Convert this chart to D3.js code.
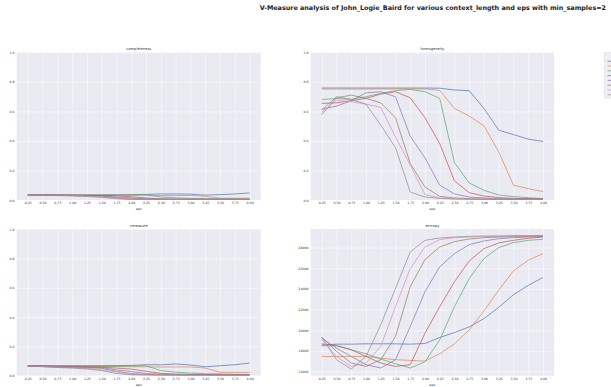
<!DOCTYPE html>
<html>
<head>
<meta charset="utf-8">
<script src="https://cdn.jsdelivr.net/npm/d3@7"></script>
<style>
  body { margin: 0; background: #fff; overflow: hidden; }
  svg { display: block; font-family: "DejaVu Sans", sans-serif; }
</style>
</head>
<body>
<div id="chart"></div>
<script>
// eps values on the x axis
const eps = [0.25, 0.5, 0.75, 1.0, 1.25, 1.5, 1.75, 2.0, 2.25, 2.5, 2.75, 3.0, 3.25, 3.5, 3.75, 4.0];
const seriesNames = ["1", "2", "3", "4", "5", "6", "7", "8"];
const legendTitle = "context_length";
const colors = ["#4C72B0", "#DD8452", "#55A868", "#C44E52", "#8172B3", "#937860", "#DA8BC3", "#8C8C8C"];

const completeness = [
  [0.034,0.034,0.034,0.034,0.034,0.034,0.035,0.036,0.038,0.041,0.041,0.040,0.033,0.036,0.041,0.048],
  [0.034,0.034,0.033,0.033,0.033,0.033,0.033,0.033,0.032,0.030,0.030,0.031,0.025,0.012,0.012,0.012],
  [0.034,0.034,0.033,0.033,0.033,0.033,0.033,0.034,0.036,0.020,0.015,0.011,0.008,0.007,0.006,0.005],
  [0.034,0.034,0.033,0.032,0.031,0.030,0.028,0.022,0.014,0.008,0.006,0.005,0.005,0.005,0.005,0.005],
  [0.034,0.033,0.032,0.031,0.030,0.029,0.020,0.014,0.008,0.006,0.005,0.005,0.005,0.005,0.004,0.004],
  [0.034,0.033,0.031,0.030,0.028,0.026,0.015,0.008,0.005,0.005,0.004,0.004,0.004,0.004,0.004,0.004],
  [0.034,0.032,0.031,0.029,0.026,0.020,0.012,0.005,0.004,0.004,0.004,0.004,0.004,0.004,0.004,0.004],
  [0.034,0.032,0.030,0.028,0.024,0.018,0.008,0.004,0.004,0.004,0.004,0.004,0.004,0.004,0.004,0.004]
];

const homogeneity = [
  [0.758,0.758,0.758,0.758,0.758,0.758,0.758,0.758,0.757,0.745,0.740,0.620,0.473,0.443,0.412,0.396],
  [0.751,0.751,0.751,0.751,0.752,0.752,0.752,0.752,0.742,0.620,0.568,0.502,0.326,0.100,0.077,0.057],
  [0.681,0.686,0.683,0.699,0.722,0.740,0.749,0.733,0.688,0.253,0.115,0.066,0.034,0.023,0.016,0.009],
  [0.654,0.658,0.672,0.688,0.717,0.733,0.692,0.557,0.382,0.129,0.050,0.027,0.016,0.011,0.009,0.007],
  [0.615,0.636,0.672,0.726,0.733,0.699,0.432,0.285,0.100,0.041,0.020,0.014,0.009,0.007,0.007,0.005],
  [0.579,0.692,0.710,0.688,0.658,0.557,0.247,0.088,0.025,0.014,0.009,0.007,0.005,0.005,0.005,0.005],
  [0.595,0.676,0.665,0.649,0.627,0.428,0.235,0.036,0.014,0.007,0.005,0.005,0.004,0.004,0.004,0.004],
  [0.609,0.699,0.680,0.649,0.507,0.355,0.054,0.020,0.011,0.007,0.005,0.004,0.004,0.004,0.004,0.004]
];

const vmeasure = [
  [0.068,0.068,0.068,0.068,0.068,0.068,0.069,0.070,0.075,0.074,0.080,0.073,0.061,0.068,0.075,0.086],
  [0.063,0.063,0.062,0.062,0.062,0.062,0.062,0.061,0.061,0.059,0.060,0.060,0.052,0.023,0.023,0.023],
  [0.066,0.066,0.065,0.065,0.065,0.065,0.065,0.066,0.068,0.035,0.024,0.018,0.014,0.012,0.010,0.009],
  [0.066,0.066,0.064,0.062,0.060,0.058,0.052,0.045,0.030,0.016,0.011,0.009,0.008,0.007,0.007,0.006],
  [0.066,0.064,0.062,0.060,0.058,0.055,0.040,0.028,0.015,0.010,0.008,0.007,0.006,0.006,0.006,0.005],
  [0.066,0.063,0.060,0.057,0.054,0.050,0.030,0.015,0.008,0.006,0.005,0.005,0.005,0.005,0.005,0.005],
  [0.066,0.062,0.058,0.055,0.050,0.040,0.025,0.008,0.006,0.005,0.005,0.004,0.004,0.004,0.004,0.004],
  [0.066,0.061,0.056,0.052,0.046,0.035,0.015,0.006,0.005,0.004,0.004,0.004,0.004,0.004,0.004,0.004]
];

const entropy = [
  [18563,18659,18659,18690,18690,18690,18659,18723,19301,19782,20328,21131,22222,23442,24341,25111],
  [17471,17471,17471,17471,17311,17150,17086,17022,17728,18691,20039,21869,23891,25753,26780,27422],
  [18498,18498,18113,17728,17214,16765,16348,16958,19076,22286,25015,26941,28000,28482,28706,28803],
  [18691,18530,18113,17471,16829,16508,16669,19718,22286,24693,26716,27904,28449,28706,28899,29027],
  [19237,18274,17471,16669,16348,17150,20360,23731,26138,27422,28289,28642,28867,28963,29027,29091],
  [19333,17953,16829,16508,17150,19397,24212,26844,28064,28578,28835,28963,29027,29059,29091,29123],
  [19076,17471,16508,16829,18434,22286,25978,28064,28770,28963,29027,29059,29091,29123,29123,29156],
  [19333,17150,16251,17471,20521,24052,27583,28706,28931,29027,29091,29123,29123,29156,29156,29156]
];

const unitTicks = [0, 0.2, 0.4, 0.6, 0.8, 1.0];
const entropyTicks = [16000, 18000, 20000, 22000, 24000, 26000, 28000];

const W = 611, H = 387;
const svg = d3.select("#chart").append("svg").attr("width", W).attr("height", H);

svg.append("text")
  .attr("x", 606).attr("y", 10)
  .attr("text-anchor", "end")
  .attr("font-size", 6.4).attr("font-weight", "bold").attr("fill", "#222")
  .text("V-Measure analysis of John_Logie_Baird for various context_length and eps with min_samples=2");

const panels = [
  { title: "completeness", data: completeness, left: 16.7, right: 260.7, top: 52.3, bottom: 200, yDomain: [0, 1], yTicks: unitTicks, fmt: d3.format(".1f") },
  { title: "homogeneity", data: homogeneity, left: 310.7, right: 554, top: 52.3, bottom: 200, yDomain: [0, 1], yTicks: unitTicks, fmt: d3.format(".1f") },
  { title: "vmeasure", data: vmeasure, left: 16.7, right: 260.7, top: 229, bottom: 375.7, yDomain: [0, 1], yTicks: unitTicks, fmt: d3.format(".1f") },
  { title: "entropy", data: entropy, left: 310.7, right: 554, top: 229, bottom: 375.7, yDomain: null, yTicks: entropyTicks, fmt: d3.format("d") }
];

const xPad = (eps[eps.length - 1] - eps[0]) * 0.05;

panels.forEach(p => {
  const w = p.right - p.left, h = p.bottom - p.top;
  let dom = p.yDomain;
  if (!dom) {
    const lo = d3.min(p.data, s => d3.min(s)), hi = d3.max(p.data, s => d3.max(s));
    const pad = (hi - lo) * 0.05;
    dom = [lo - pad, hi + pad];
  }
  const x = d3.scaleLinear().domain([eps[0] - xPad, eps[eps.length - 1] + xPad]).range([0, w]);
  const y = d3.scaleLinear().domain(dom).range([h, 0]);

  const g = svg.append("g").attr("transform", `translate(${p.left},${p.top})`);
  g.append("rect").attr("width", w).attr("height", h).attr("fill", "#EAEAF2");

  const xAxis = g.append("g").attr("transform", `translate(0,${h})`)
    .call(d3.axisBottom(x).tickValues(eps).tickFormat(d3.format(".2f")).tickSize(-h).tickPadding(2));
  const yAxis = g.append("g")
    .call(d3.axisLeft(y).tickValues(p.yTicks).tickFormat(p.fmt).tickSize(-w).tickPadding(2.2));
  [xAxis, yAxis].forEach(a => {
    a.select(".domain").remove();
    a.selectAll(".tick line").attr("stroke", "#fff").attr("stroke-width", 0.5);
    a.selectAll(".tick text").attr("font-size", 3.2).attr("fill", "#333").attr("font-family", "DejaVu Sans, sans-serif");
  });

  const line = d3.line().x((d, i) => x(eps[i])).y(d => y(d));
  g.selectAll("path.series").data(p.data).enter().append("path")
    .attr("class", "series")
    .attr("d", line)
    .attr("fill", "none")
    .attr("stroke", (d, i) => colors[i])
    .attr("stroke-width", 0.7);

  g.append("text").attr("x", w / 2).attr("y", -2.5).attr("text-anchor", "middle")
    .attr("font-size", 3.6).attr("fill", "#333").text(p.title);
  g.append("text").attr("x", w / 2).attr("y", h + 10.5).attr("text-anchor", "middle")
    .attr("font-size", 3.4).attr("fill", "#333").text("eps");
});

// legend sits right of the homogeneity panel; its labels fall past the page edge like in the original
const leg = svg.append("g").attr("transform", "translate(604,52.3)");
leg.append("rect").attr("width", 40).attr("height", 46).attr("rx", 1)
  .attr("fill", "#EEEEF4").attr("stroke", "#d8d8e0").attr("stroke-width", 0.4);
leg.append("text").attr("x", 14).attr("y", 4.8)
  .attr("font-size", 3.4).attr("fill", "#333").text(legendTitle);
seriesNames.forEach((name, i) => {
  const yy = 8.9 + i * 4.8;
  leg.append("line").attr("x1", 3.5).attr("x2", 10).attr("y1", yy).attr("y2", yy)
    .attr("stroke", colors[i]).attr("stroke-width", 0.7);
  leg.append("text").attr("x", 13).attr("y", yy + 1.2).attr("font-size", 3.4).attr("fill", "#333").text(name);
});
</script>
</body>
</html>
